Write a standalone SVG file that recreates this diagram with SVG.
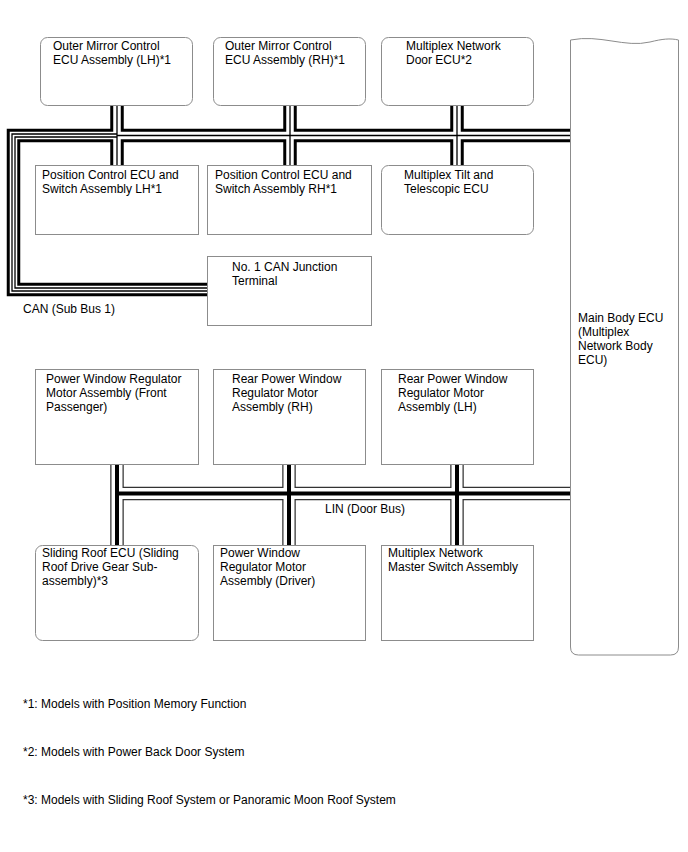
<svg xmlns="http://www.w3.org/2000/svg" width="688" height="852" viewBox="0 0 688 852">
<style>
text{font-family:"Liberation Sans",Arial,sans-serif;font-size:12px;fill:#000}
.box{fill:#fff;stroke:#8c8c8c;stroke-width:1}
.c1{fill:none;stroke:#000;stroke-width:13.5}
.c2{fill:none;stroke:#fff;stroke-width:7.5}
.c3{fill:none;stroke:#000;stroke-width:1.3}
.l1{fill:none;stroke:#333;stroke-width:13.5}
.l2{fill:none;stroke:#fff;stroke-width:11}
.l3{fill:none;stroke:#000;stroke-width:4}
</style>
<rect width="688" height="852" fill="#fff"/>
<g id="connectors">
  <g id="can-bus">
    <path class="c1" d="M117,135.5 H570 M117,135.5 H13.5 V289.5 H207 M117,105 V165 M290,105 V165 M457,105 V165"/>
    <path class="c2" d="M117,135.5 H570 M117,135.5 H13.5 V289.5 H207 M117,105 V165 M290,105 V165 M457,105 V165"/>
    <path class="c3" d="M117,135.5 H570 M117,105 V165 M290,105 V165 M457,105 V165"/>
    <path class="c3" d="M117,134 H12 V291 H207 M117,137 H15 V288 H207"/>
  </g>
  <g id="lin-bus">
    <path class="l1" d="M117,493.5 H570 M117,464 V545 M289,464 V545 M457,464 V545"/>
    <path class="l2" d="M117,493.5 H570 M117,464 V545 M289,464 V545 M457,464 V545"/>
    <path class="l3" d="M117,493.5 H570 M117,464 V545 M289,464 V545 M457,464 V545"/>
  </g>
</g>
<g id="outer-mirror-lh"><rect class="box" x="40.5" y="37.5" width="152" height="68" rx="7"/><text x="53" y="50">Outer Mirror Control</text><text x="53" y="64">ECU Assembly (LH)*1</text></g>
<g id="outer-mirror-rh"><rect class="box" x="213.5" y="37.5" width="152" height="68" rx="7"/><text x="225" y="50">Outer Mirror Control</text><text x="225" y="64">ECU Assembly (RH)*1</text></g>
<g id="door-ecu"><rect class="box" x="381.5" y="37.5" width="152" height="68" rx="7"/><text x="406" y="50">Multiplex Network</text><text x="406" y="64">Door ECU*2</text></g>
<g id="pos-lh"><rect class="box" x="35.5" y="165.5" width="163" height="69"/><text x="42" y="179">Position Control ECU and</text><text x="42" y="193">Switch Assembly LH*1</text></g>
<g id="pos-rh"><rect class="box" x="207.5" y="165.5" width="164" height="69"/><text x="215" y="179">Position Control ECU and</text><text x="215" y="193">Switch Assembly RH*1</text></g>
<g id="tilt-ecu"><rect class="box" x="381.5" y="165.5" width="152" height="69" rx="7"/><text x="404" y="179">Multiplex Tilt and</text><text x="404" y="193">Telescopic ECU</text></g>
<g id="can-junction"><rect class="box" x="207.5" y="256.5" width="164" height="69"/><text x="232" y="271">No. 1 CAN Junction</text><text x="232" y="285">Terminal</text></g>
<text x="23" y="313">CAN (Sub Bus 1)</text>
<g id="main-body-ecu"><path class="box" d="M570.5,40 C600,34 625,48 650,42 C662,39 670,38 678.5,40 V647 Q678.5,655 670.5,655 H578.5 Q570.5,655 570.5,647 Z"/><text x="578" y="322">Main Body ECU</text><text x="578" y="336">(Multiplex</text><text x="578" y="350">Network Body</text><text x="578" y="364">ECU)</text></g>
<g id="pw-front-passenger"><rect class="box" x="35.5" y="369.5" width="163" height="95"/><text x="46" y="383">Power Window Regulator</text><text x="46" y="397">Motor Assembly (Front</text><text x="46" y="411">Passenger)</text></g>
<g id="rear-pw-rh"><rect class="box" x="213.5" y="369.5" width="152" height="95"/><text x="232" y="383">Rear Power Window</text><text x="232" y="397">Regulator Motor</text><text x="232" y="411">Assembly (RH)</text></g>
<g id="rear-pw-lh"><rect class="box" x="381.5" y="369.5" width="152" height="95"/><text x="398" y="383">Rear Power Window</text><text x="398" y="397">Regulator Motor</text><text x="398" y="411">Assembly (LH)</text></g>
<text x="325" y="513">LIN (Door Bus)</text>
<g id="sliding-roof-ecu"><rect class="box" x="35.5" y="545.5" width="163" height="95" rx="7"/><text x="42" y="557">Sliding Roof ECU (Sliding</text><text x="42" y="571">Roof Drive Gear Sub-</text><text x="42" y="585">assembly)*3</text></g>
<g id="pw-driver"><rect class="box" x="213.5" y="545.5" width="152" height="95"/><text x="220" y="557">Power Window</text><text x="220" y="571">Regulator Motor</text><text x="220" y="585">Assembly (Driver)</text></g>
<g id="master-switch"><rect class="box" x="381.5" y="545.5" width="152" height="95"/><text x="388" y="557">Multiplex Network</text><text x="388" y="571">Master Switch Assembly</text></g>
<text x="23" y="708">*1: Models with Position Memory Function</text>
<text x="23" y="756">*2: Models with Power Back Door System</text>
<text x="23" y="804">*3: Models with Sliding Roof System or Panoramic Moon Roof System</text>
</svg>
